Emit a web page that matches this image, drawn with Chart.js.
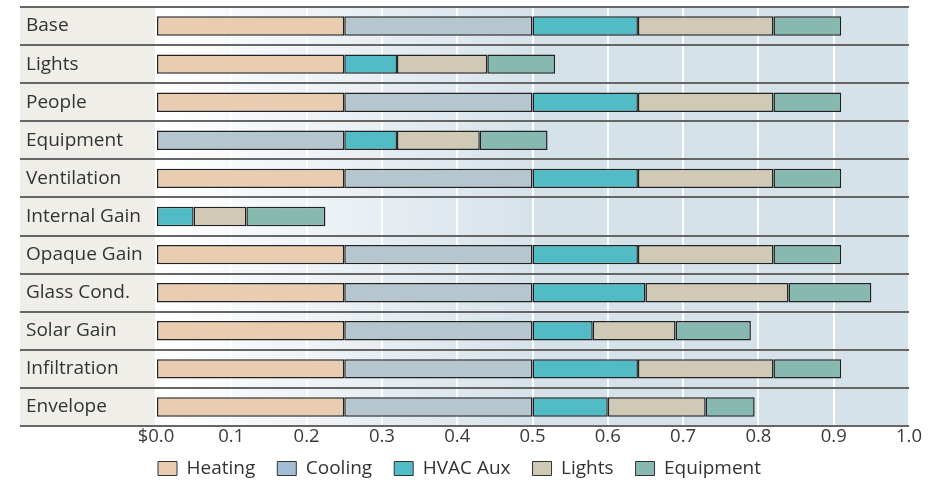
<!DOCTYPE html>
<html>
<head>
<meta charset="utf-8">
<script src="https://cdn.jsdelivr.net/npm/chart.js@4.4.1/dist/chart.umd.min.js"></script>
<style>
  html, body { margin: 0; padding: 0; background: #fff; }
</style>
</head>
<body>
<canvas id="chart" width="938" height="480"></canvas>
<script>
// data
const categories = ["Base", "Lights", "People", "Equipment", "Ventilation", "Internal Gain",
  "Opaque Gain", "Glass Cond.", "Solar Gain", "Infiltration", "Envelope"];
const heating   = [0.25, 0.25, 0.25, 0,    0.25, 0,     0.25, 0.25, 0.25, 0.25, 0.25];
const cooling   = [0.25, 0,    0.25, 0.25, 0.25, 0,     0.25, 0.25, 0.25, 0.25, 0.25];
const hvacAux   = [0.14, 0.07, 0.14, 0.07, 0.14, 0.05,  0.14, 0.15, 0.08, 0.14, 0.10];
const lights    = [0.18, 0.12, 0.18, 0.11, 0.18, 0.07,  0.18, 0.19, 0.11, 0.18, 0.13];
const equipment = [0.09, 0.09, 0.09, 0.09, 0.09, 0.105, 0.09, 0.11, 0.10, 0.09, 0.065];
const xTickLabels = ["$0.0", "0.1", "0.2", "0.3", "0.4", "0.5", "0.6", "0.7", "0.8", "0.9", "1.0"];

const seriesNames = ["Heating", "Cooling", "HVAC Aux", "Lights", "Equipment"];
const barColors = ["#e8cdb0", "#b6c6ce", "#52bcc6", "#d0c9b6", "#88b9b1"];
const legendColors = ["#e8cdb0", "#a4bdd7", "#52bcc6", "#d0c9b6", "#88b9b1"];

const FONT = "'Open Sans', 'Noto Sans', sans-serif";

// label panel, gradient plot background and row separators
const backdrop = {
  id: "backdrop",
  afterLayout(chart) {
    // pull the legend up tight under the tick labels
    const lg = chart.legend;
    lg.top -= 15; lg.bottom -= 15;
    lg.left -= 8; lg.right -= 8;
  },
  beforeDraw(chart) {
    const { ctx, chartArea: a } = chart;
    ctx.save();
    ctx.fillStyle = "#f0eee9";
    ctx.fillRect(20, a.top, a.left - 20, a.bottom - a.top);
    const g = ctx.createLinearGradient(a.left, 0, a.left + 380, 0);
    g.addColorStop(0, "#ffffff");
    g.addColorStop(1, "#d6e2ea");
    ctx.fillStyle = g;
    ctx.fillRect(a.left, a.top, a.right - a.left, a.bottom - a.top);
    ctx.restore();
  },
  beforeDatasetsDraw(chart) {
    const { ctx, chartArea: a } = chart;
    const n = categories.length;
    const step = (a.bottom - a.top) / n;
    ctx.save();
    ctx.strokeStyle = "#666";
    ctx.lineWidth = 2;
    for (let i = 0; i <= n; i++) {
      const y = Math.round(a.top + i * step);
      ctx.beginPath();
      ctx.moveTo(20, y);
      ctx.lineTo(a.right, y);
      ctx.stroke();
    }
    ctx.restore();
  }
};

const values = [heating, cooling, hvacAux, lights, equipment];

new Chart(document.getElementById("chart"), {
  type: "bar",
  data: {
    labels: categories,
    datasets: seriesNames.map((name, i) => ({
      label: name,
      data: values[i],
      backgroundColor: barColors[i],
      borderColor: "#222",
      borderWidth: 1.5,
      borderSkipped: false,
      barPercentage: 0.51,
      categoryPercentage: 1
    }))
  },
  options: {
    indexAxis: "y",
    responsive: false,
    animation: false,
    devicePixelRatio: 1,
    layout: { padding: { top: 7, left: 26, right: 29, bottom: -23 } },
    scales: {
      x: {
        stacked: true,
        min: 0,
        max: 1,
        grid: { color: "#ffffff", lineWidth: 2, drawTicks: false },
        border: { display: false },
        ticks: {
          stepSize: 0.1,
          padding: 0,
          color: "#3a3a3a",
          font: { family: FONT, size: 18.5 },
          callback: (v, i) => xTickLabels[i]
        },
        afterFit(scale) { scale.height = 26; }
      },
      y: {
        stacked: true,
        grid: { display: false },
        border: { display: false },
        ticks: {
          crossAlign: "far",
          color: "#333",
          font: { family: FONT, size: 19 }
        },
        afterFit(scale) {
          scale.width = 130;
          scale.paddingTop = 0;
          scale.paddingBottom = 0;
        }
      }
    },
    plugins: {
      tooltip: { enabled: false },
      legend: {
        position: "bottom",
        labels: {
          boxWidth: 19,
          boxHeight: 14,
          padding: 22,
          color: "#333",
          font: { family: FONT, size: 19 },
          generateLabels(chart) {
            const items = Chart.defaults.plugins.legend.labels.generateLabels(chart);
            items.forEach((it, i) => { it.fillStyle = legendColors[i]; it.lineWidth = 1; it.strokeStyle = "#333"; });
            return items;
          }
        }
      }
    }
  },
  plugins: [backdrop]
});
</script>
</body>
</html>
